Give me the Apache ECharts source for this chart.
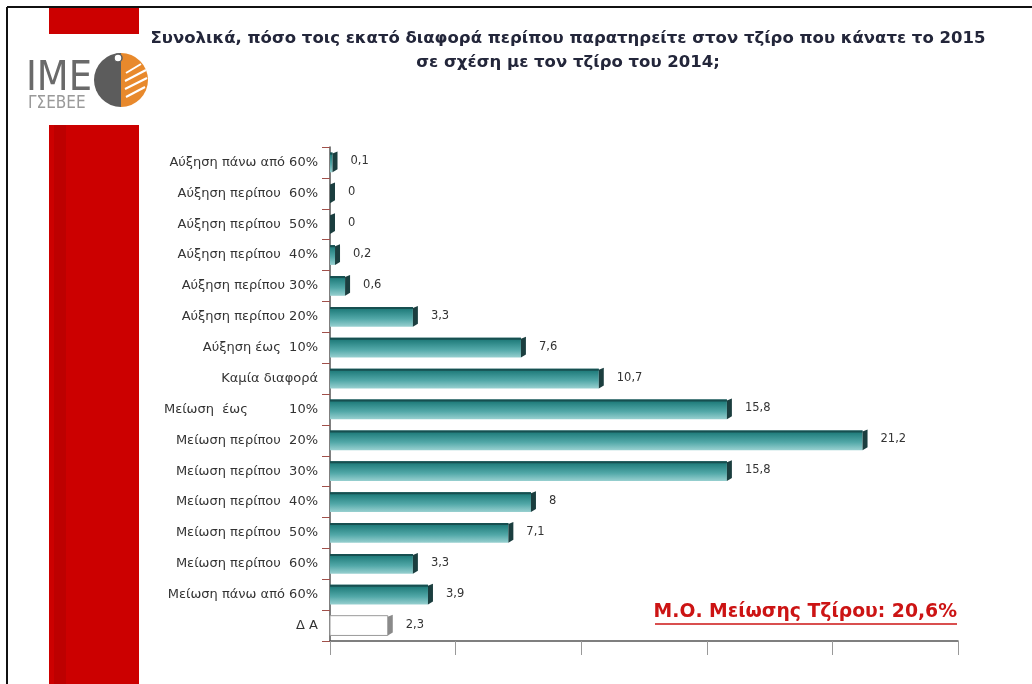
<!DOCTYPE html>
<html>
<head>
<meta charset="utf-8">
<style>
  html, body { margin: 0; padding: 0; background: #fff; }
  #chart { width: 1032px; height: 684px; }
</style>
<script src="https://cdn.jsdelivr.net/npm/echarts@6/dist/echarts.min.js"></script>
</head>
<body>
<div id="chart"></div>
<script>
// Answer categories, top to bottom
const categories = [
  'Αύξηση πάνω από 60%',
  'Αύξηση περίπου  60%',
  'Αύξηση περίπου  50%',
  'Αύξηση περίπου  40%',
  'Αύξηση περίπου 30%',
  'Αύξηση περίπου 20%',
  'Αύξηση έως  10%',
  'Καμία διαφορά',
  'Μείωση  έως          10%',
  'Μείωση περίπου  20%',
  'Μείωση περίπου  30%',
  'Μείωση περίπου  40%',
  'Μείωση περίπου  50%',
  'Μείωση περίπου  60%',
  'Μείωση πάνω από 60%',
  'Δ Α'
];
// Share of respondents (%)
const values = [0.1, 0, 0, 0.2, 0.6, 3.3, 7.6, 10.7, 15.8, 21.2, 15.8, 8, 7.1, 3.3, 3.9, 2.3];
// Categories drawn as empty (no answer)
const emptyCategories = ['Δ Α'];
// Value axis ticks
const xTicks = { min: 0, max: 25, interval: 5 };

const titleLines = [
  'Συνολικά, πόσο τοις εκατό διαφορά περίπου παρατηρείτε στον τζίρο που κάνατε το 2015',
  'σε σχέση με τον τζίρο του 2014;'
];
const noteText = 'Μ.Ο. Μείωσης Τζίρου: 20,6%';

const fmt = v => String(v).replace('.', ',');

const chart = echarts.init(document.getElementById('chart'), null, { renderer: 'canvas' });

const barFill = new echarts.graphic.LinearGradient(0, 0, 0, 1, [
  { offset: 0, color: '#1c6a6a' },
  { offset: 0.15, color: '#24807f' },
  { offset: 0.6, color: '#52a8a8' },
  { offset: 1, color: '#98d0d0' }
]);

function renderBar(params, api) {
  const v = api.value(0);
  const c = api.value(1);
  const name = categories[c];
  const start = api.coord([0, c]);
  const end = api.coord([v, c]);
  const band = api.size([0, 1])[1];
  const h = band * 0.64;
  const y0 = start[1] - h / 2;
  const w = Math.max(end[0] - start[0], 0);
  const empty = emptyCategories.indexOf(name) >= 0;
  const capW = 5;
  const children = [];
  if (w > 0) {
    children.push({
      type: 'rect',
      shape: { x: start[0], y: y0, width: w, height: h },
      style: empty
        ? { fill: '#ffffff', stroke: '#9a9a9a', lineWidth: 1 }
        : { fill: barFill }
    });
    if (!empty) {
      children.push({
        type: 'rect',
        shape: { x: start[0], y: y0, width: w, height: 2 },
        style: { fill: '#174f50' }
      });
    }
  }
  // end face of the bar
  children.push({
    type: 'polygon',
    shape: { points: [
      [end[0], y0 + 1], [end[0] + capW, y0 - 1],
      [end[0] + capW, y0 + h - 3], [end[0], y0 + h]
    ] },
    style: { fill: empty ? '#8a8a8a' : '#1b3e3f' }
  });
  children.push({
    type: 'text',
    x: end[0] + capW + 13,
    y: start[1] - 1,
    style: {
      text: fmt(v),
      fill: '#333',
      font: '11.5px "DejaVu Sans"',
      verticalAlign: 'middle',
      align: 'left'
    }
  });
  return { type: 'group', children };
}

const option = {
  backgroundColor: '#ffffff',
  animation: false,
  grid: { left: 330, right: 74, top: 147, bottom: 43 },
  xAxis: {
    type: 'value',
    min: xTicks.min,
    max: xTicks.max,
    interval: xTicks.interval,
    axisLabel: { show: false },
    splitLine: { show: false },
    axisLine: { show: true, lineStyle: { color: '#555', width: 1.5 } },
    axisTick: { show: true, length: 14, lineStyle: { color: '#999' } }
  },
  yAxis: {
    type: 'category',
    inverse: true,
    data: categories,
    axisLine: { show: true, lineStyle: { color: '#555', width: 1.5 } },
    axisTick: { show: true, length: 8, lineStyle: { color: '#a0504a' } },
    axisLabel: {
      color: '#333',
      fontSize: 13,
      fontFamily: 'DejaVu Sans',
      margin: 12
    }
  },
  series: [{
    type: 'custom',
    renderItem: renderBar,
    encode: { x: 0, y: 1 },
    data: values.map((v, i) => [v, i]),
    z: 3
  }],
  graphic: [
    // page frame
    { type: 'line', shape: { x1: 7, y1: 7, x2: 1032, y2: 7 }, style: { stroke: '#111', lineWidth: 2 } },
    { type: 'line', shape: { x1: 7, y1: 7, x2: 7, y2: 684 }, style: { stroke: '#111', lineWidth: 2 } },
    // red band
    { type: 'rect', shape: { x: 49, y: 8, width: 90, height: 26 }, style: { fill: '#cc0000' } },
    { type: 'rect', shape: { x: 49, y: 125, width: 90, height: 559 }, style: { fill: '#cc0000' } },
    { type: 'rect', shape: { x: 54, y: 125, width: 12, height: 559 }, style: { fill: '#bd0000' } },
    // logo
    { type: 'text', x: 26, y: 79, style: { text: 'IME', font: '41px "DejaVu Sans Condensed", sans-serif', fill: '#6a6a6a', verticalAlign: 'middle' } },
    { type: 'text', x: 28, y: 104, style: { text: 'ΓΣΕΒΕΕ', font: '17px "DejaVu Sans Condensed", sans-serif', fill: '#9a9a9a', verticalAlign: 'middle' } },
    { type: 'sector', shape: { cx: 121, cy: 80, r0: 0, r: 27, startAngle: Math.PI / 2, endAngle: Math.PI * 1.5 }, style: { fill: '#5c5c5c' } },
    { type: 'sector', shape: { cx: 121, cy: 80, r0: 0, r: 27, startAngle: -Math.PI / 2, endAngle: Math.PI / 2 }, style: { fill: '#e8892c' } },
    { type: 'line', shape: { x1: 126, y1: 97, x2: 145, y2: 87 }, style: { stroke: '#fff', lineWidth: 2 } },
    { type: 'line', shape: { x1: 125, y1: 89, x2: 147, y2: 78 }, style: { stroke: '#fff', lineWidth: 2 } },
    { type: 'line', shape: { x1: 125, y1: 81, x2: 146, y2: 70 }, style: { stroke: '#fff', lineWidth: 2 } },
    { type: 'line', shape: { x1: 126, y1: 73, x2: 141, y2: 64 }, style: { stroke: '#fff', lineWidth: 2 } },
    { type: 'circle', shape: { cx: 118, cy: 58, r: 4 }, style: { fill: '#fff', stroke: '#5c5c5c', lineWidth: 1.5 } },
    // title
    { type: 'text', x: 568, y: 39, style: { text: titleLines[0], font: 'bold 16.5px "DejaVu Sans", sans-serif', fill: '#23263a', align: 'center', verticalAlign: 'middle' } },
    { type: 'text', x: 568, y: 63, style: { text: titleLines[1], font: 'bold 16.5px "DejaVu Sans", sans-serif', fill: '#23263a', align: 'center', verticalAlign: 'middle' } },
    // mean decrease note
    { type: 'text', x: 957, y: 612, style: { text: noteText, font: 'bold 18.8px "DejaVu Sans", sans-serif', fill: '#cc1414', align: 'right', verticalAlign: 'middle' } },
    { type: 'line', shape: { x1: 655, y1: 624, x2: 957, y2: 624 }, style: { stroke: '#cc1414', lineWidth: 1.5 } }
  ]
};

chart.setOption(option);
</script>
</body>
</html>
